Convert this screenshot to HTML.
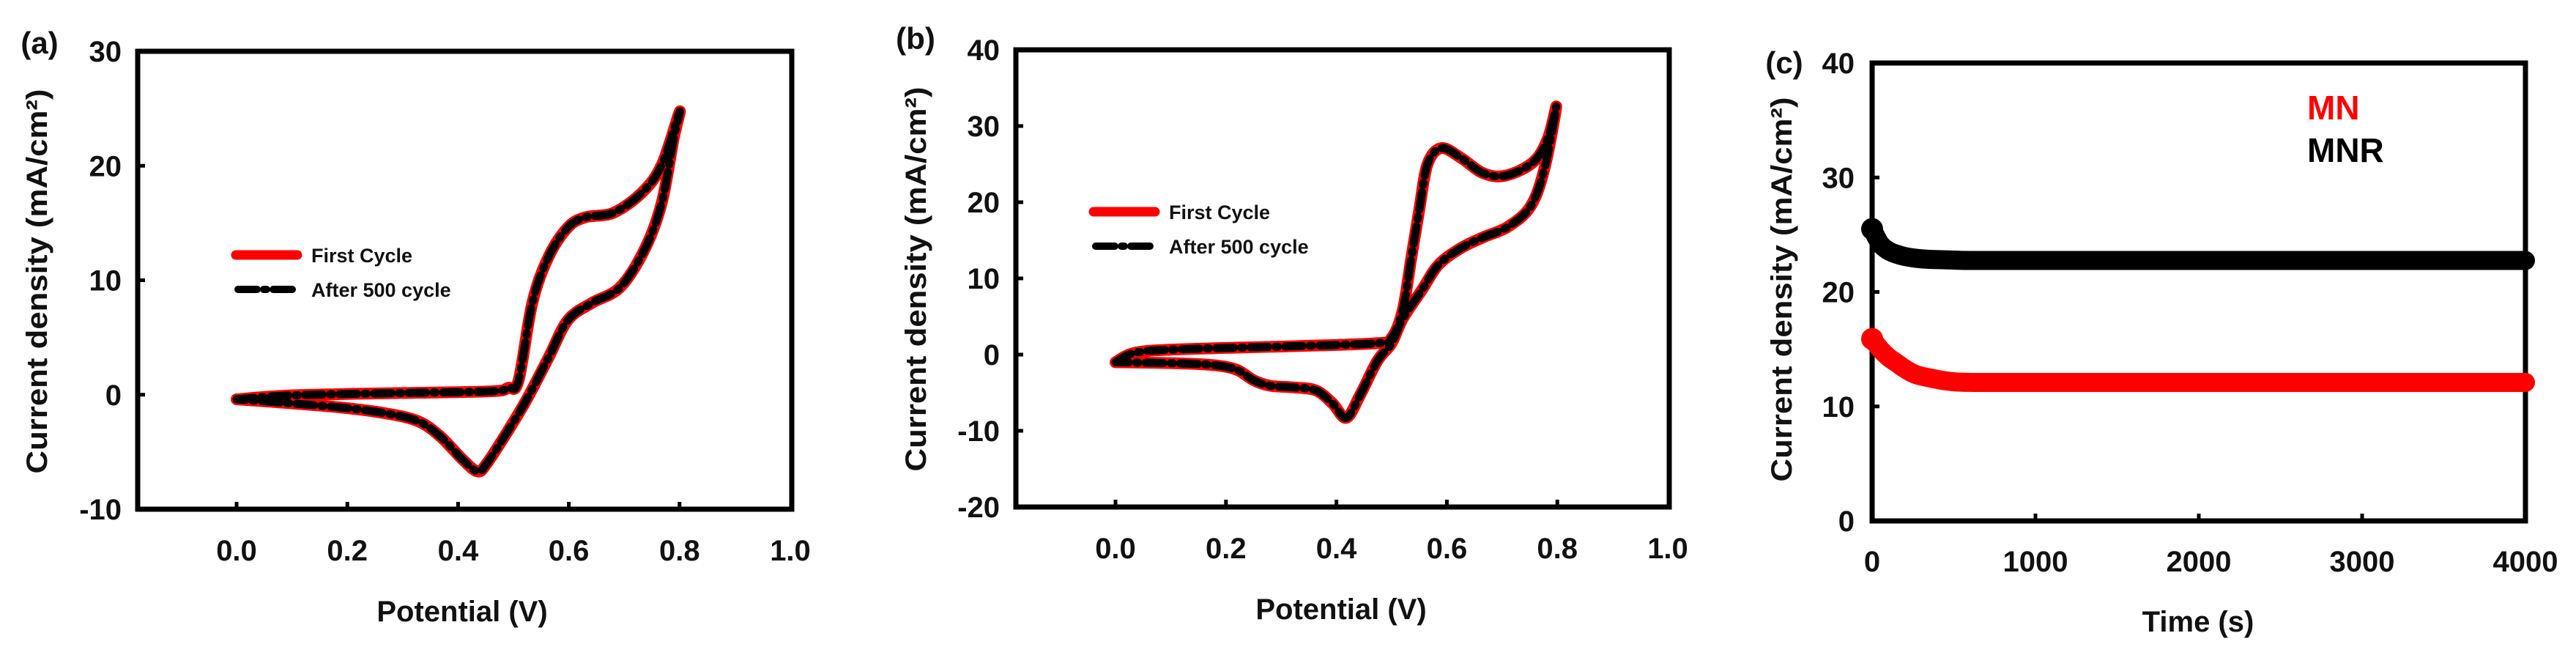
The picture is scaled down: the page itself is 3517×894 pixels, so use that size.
<!DOCTYPE html>
<html><head><meta charset="utf-8">
<style>
html,body{margin:0;padding:0;background:#fff;}
svg{display:block;}
text{font-family:"Liberation Sans",sans-serif;font-weight:bold;fill:#111;}
</style></head>
<body>
<svg id="fig" width="3517" height="894" viewBox="0 0 3517 894" xmlns="http://www.w3.org/2000/svg"></svg>
<script>
// ---- Panel (a) CV data ----
const aX = [0.0,0.08,0.185,0.30,0.46,0.49,0.509,0.534,0.563,0.598,0.63,0.681,0.733,0.768,0.80,0.789,0.768,0.738,0.693,0.641,0.598,0.563,0.523,0.487,0.452,0.435,0.407,0.367,0.327,0.266,0.185,0.084,0.0];
const aY = [-0.4,-0.1,0.05,0.15,0.3,0.6,1.2,8.0,12.0,14.6,15.5,15.9,17.7,20.1,24.7,22.3,16.8,12.8,9.4,8.0,6.5,3.2,-0.5,-3.4,-6.0,-6.7,-5.6,-3.6,-2.3,-1.6,-1.1,-0.7,-0.4];
// ---- Panel (b) CV data ----
const bX = [0.0,0.036,0.117,0.32,0.474,0.50,0.52,0.535,0.55,0.565,0.59,0.626,0.666,0.707,0.757,0.783,0.798,0.777,0.752,0.711,0.666,0.626,0.585,0.555,0.52,0.50,0.474,0.443,0.418,0.393,0.363,0.322,0.281,0.251,0.22,0.18,0.117,0.0];
const bY = [-1.0,0.25,0.7,1.1,1.5,2.2,5.8,12.4,19.0,25.0,27.1,25.8,23.8,23.5,25.3,28.4,32.5,24.5,19.5,16.8,15.4,14.0,11.8,8.5,4.7,1.5,-0.85,-5.3,-8.3,-6.4,-4.7,-4.3,-4.1,-3.4,-2.0,-1.4,-1.15,-1.0];
// ---- Panel (c) chronoamperometry data ----
const cT = [0,50,100,150,200,265,350,470,600,1000,2000,3000,4000];
const cMN = [15.9,15.0,14.3,13.8,13.3,12.8,12.5,12.2,12.1,12.1,12.1,12.1,12.1];
const cMNR = [25.5,24.2,23.6,23.3,23.1,22.95,22.85,22.8,22.75,22.75,22.75,22.75,22.75];
// ---- tick labels ----
const cvXTicks = [0.0,0.2,0.4,0.6,0.8,1.0];
const aYTicks = [-10,0,10,20,30];
const bYTicks = [-20,-10,0,10,20,30,40];
const cXTicks = [0,1000,2000,3000,4000];
const cYTicks = [0,10,20,30,40];

const NS = "http://www.w3.org/2000/svg";
const svg = document.getElementById('fig');
function mk(tag, attrs, parent){
  const e = document.createElementNS(NS, tag);
  for (const k in attrs) e.setAttribute(k, attrs[k]);
  (parent||svg).appendChild(e);
  return e;
}
function lin(d0,d1,p0,p1){ return v => p0 + (v-d0)*(p1-p0)/(d1-d0); }
function smoothPath(P){
  let d = 'M'+P[0][0]+','+P[0][1];
  for(let i=0;i<P.length-1;i++){
    const p0=P[Math.max(0,i-1)], p1=P[i], p2=P[i+1], p3=P[Math.min(P.length-1,i+2)];
    const c1x=p1[0]+(p2[0]-p0[0])/6, c1y=p1[1]+(p2[1]-p0[1])/6;
    const c2x=p2[0]-(p3[0]-p1[0])/6, c2y=p2[1]-(p3[1]-p1[1])/6;
    d+=' C'+c1x+','+c1y+' '+c2x+','+c2y+' '+p2[0]+','+p2[1];
  }
  return d;
}

function cvPanel(opt){
  const g = mk('g', {});
  
  
  const sx = lin(0,1,opt.x0,opt.x1);
  const sy = lin(opt.ymin,opt.ymax,opt.bottom,opt.top);
  const box = mk('rect', {x:opt.left,y:opt.top,width:opt.right-opt.left,height:opt.bottom-opt.top,fill:'none',stroke:'#000','stroke-width':7}, g);
  
  
  opt.yTicks.forEach(v=>{
    const y = sy(v);
    const t = mk('line',{x1:opt.left,x2:opt.left+10,y1:y,y2:y,stroke:'#000','stroke-width':5},g);
    
    
    const l = mk('text',{x:opt.left-22,y:y+14,'text-anchor':'end','font-size':40},g);
    
    
    l.textContent = v;
  });
  cvXTicks.forEach(v=>{
    const x = sx(v);
    if (v < 0.95){
      const t = mk('line',{x1:x,x2:x,y1:opt.bottom,y2:opt.bottom-10,stroke:'#000','stroke-width':5},g);
      
      
    }
    const l = mk('text',{x:x,y:opt.xlabY,'text-anchor':'middle','font-size':40},g);
    
    
    l.textContent = v.toFixed(1);
  });
  const P = opt.X.map((v,i)=>[sx(v), sy(opt.Y[i])]);
  const d = smoothPath(P);
  const red = mk('path',{d:d,fill:'none',stroke:'#f00','stroke-width':16,'stroke-linejoin':'round','stroke-linecap':'round'},g);
  
  
  const blk = mk('path',{d:d,fill:'none',stroke:'#000','stroke-width':11,'stroke-dasharray':'24 10 3 10','stroke-linejoin':'round','stroke-linecap':'round'},g);
  
  
  // legend
  const lg = mk('g',{},g);
  
  
  const l1 = mk('line',{x1:opt.legX,x2:opt.legX+84,y1:opt.legY,y2:opt.legY,stroke:'#f00','stroke-width':13,'stroke-linecap':'round'},lg);
  
  
  const t1 = mk('text',{x:opt.legX+103,y:opt.legY+10,'font-size':27},lg);
  
  
  t1.textContent='First Cycle';
  const l2 = mk('line',{x1:opt.legX+3,x2:opt.legX+82,y1:opt.legY+47,y2:opt.legY+47,stroke:'#000','stroke-width':10,'stroke-dasharray':'26 9 4 9','stroke-linecap':'round'},lg);
  
  
  const t2 = mk('text',{x:opt.legX+103,y:opt.legY+57,'font-size':27},lg);
  
  
  t2.textContent='After 500 cycle';
  // titles
  const xt = mk('text',{x:opt.xtX,y:opt.xtY,'text-anchor':'middle','font-size':40},g);
  
  
  xt.textContent='Potential (V)';
  const yt = mk('text',{x:0,y:0,'text-anchor':'middle','font-size':40,textLength:525,lengthAdjust:'spacingAndGlyphs',transform:`translate(${opt.ytX},${opt.ytY}) rotate(-90)`},g);
  
  
  yt.textContent='Current density (mA/cm²)';
  const pl = mk('text',{x:opt.plX,y:opt.plY,'text-anchor':'middle','font-size':42},g);
  
  
  pl.textContent=opt.label;
}

cvPanel({name:'panel-a',X:aX,Y:aY,yTicks:aYTicks,ymin:-10,ymax:30,left:188,right:1081,top:70,bottom:695,x0:323,x1:1079,
  xlabY:765,legX:322,legY:348,xtX:631,xtY:848,ytX:64,ytY:384,plX:54,plY:73,label:'(a)'});
cvPanel({name:'panel-b',X:bX,Y:bY,yTicks:bYTicks,ymin:-20,ymax:40,left:1387,right:2279,top:68,bottom:692,x0:1523,x1:2277,
  xlabY:762,legX:1493,legY:289,xtX:1831,xtY:845,ytX:1264,ytY:381,plX:1250,plY:67,label:'(b)'});

// Panel (c)
(function(){
  const g = mk('g',{});
  
  
  const left=2556,right=3448,top=86,bottom=711;
  const sx = lin(0,4000,left,right), sy = lin(0,40,bottom,top);
  const box = mk('rect',{x:left,y:top,width:right-left,height:bottom-top,fill:'none',stroke:'#000','stroke-width':7},g);
  
  
  cYTicks.forEach(v=>{
    const y=sy(v);
    if(v>0 && v<40){
      const t=mk('line',{x1:left,x2:left+10,y1:y,y2:y,stroke:'#000','stroke-width':5},g);
      
      
    }
    const l=mk('text',{x:2532,y:y+14,'text-anchor':'end','font-size':40},g);
    
    
    l.textContent=v;
  });
  cXTicks.forEach(v=>{
    const x=sx(v);
    if(v>0 && v<4000){
      const t=mk('line',{x1:x,x2:x,y1:bottom,y2:bottom-10,stroke:'#000','stroke-width':5},g);
      
      
    }
    const l=mk('text',{x:x,y:780,'text-anchor':'middle','font-size':40},g);
    
    
    l.textContent=v;
  });
  function series(vals,color,name){
    const P=cT.map((t,i)=>[sx(t),sy(vals[i])]);
    const p=mk('path',{d:smoothPath(P),fill:'none',stroke:color,'stroke-width':26,'stroke-linejoin':'round','stroke-linecap':'round'},g);
    
    
    const c=mk('circle',{cx:sx(cT[0]),cy:sy(vals[0]),r:15,fill:color},g);
    
    
  }
  series(cMN,'#f00','mn-series');
  series(cMNR,'#000','mnr-series');
  const m1=mk('text',{x:3150,y:163,'font-size':46,style:'fill:#f00'},g);
  
  
  m1.textContent='MN';
  const m2=mk('text',{x:3150,y:221,'font-size':46,style:'fill:#000'},g);
  
  
  m2.textContent='MNR';
  const xt=mk('text',{x:3001,y:862,'text-anchor':'middle','font-size':40},g);
  
  
  xt.textContent='Time (s)';
  const yt=mk('text',{x:0,y:0,'text-anchor':'middle','font-size':40,textLength:525,lengthAdjust:'spacingAndGlyphs',transform:'translate(2446,395) rotate(-90)'},g);
  
  
  yt.textContent='Current density (mA/cm²)';
  const pl=mk('text',{x:2436,y:100,'text-anchor':'middle','font-size':42},g);
  
  
  pl.textContent='(c)';
})();
</script>
</body></html>
